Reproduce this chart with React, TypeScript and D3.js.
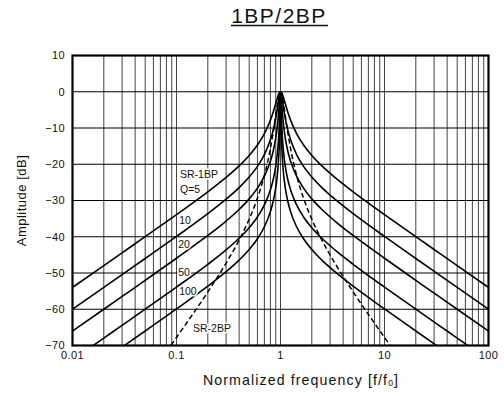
import React from "react";
import * as d3 from "d3";

// Frequencies (normalized f/f0)
const freq = [0.01, 0.02, 0.03, 0.05, 0.1, 0.2, 0.3, 0.4, 0.5, 0.6, 0.7, 0.8, 0.85, 0.9, 0.93, 0.95, 0.97, 0.98, 0.99, 1,
  1.0101, 1.0204, 1.0309, 1.0526, 1.0753, 1.1111, 1.1765, 1.25, 1.4286, 1.6667, 2, 2.5, 3.3333, 5, 10, 20, 33.333, 50, 100];

// SR-1BP amplitude [dB] for each Q
const q5 = [-53.98, -47.96, -44.43, -39.98, -33.89, -27.61, -23.64, -20.46, -17.58, -14.69, -11.54, -7.83, -5.64, -3.25, -1.84, -1.01, -0.39, -0.17, -0.04, 0,
  -0.04, -0.17, -0.39, -1.01, -1.84, -3.25, -5.64, -7.83, -11.54, -14.69, -17.58, -20.46, -23.64, -27.61, -33.89, -39.98, -44.43, -47.96, -53.98];
const q10 = [-60.0, -53.98, -50.45, -46.0, -39.91, -33.63, -29.65, -26.45, -23.54, -20.6, -17.33, -13.27, -10.67, -7.37, -4.93, -3.12, -1.37, -0.66, -0.17, 0,
  -0.17, -0.66, -1.37, -3.12, -4.93, -7.37, -10.67, -13.27, -17.33, -20.6, -23.54, -26.45, -29.65, -33.63, -39.91, -46.0, -50.45, -53.98, -60.0];
const q20 = [-66.02, -60.0, -56.47, -52.02, -45.93, -39.65, -35.66, -32.47, -29.55, -26.59, -23.29, -19.14, -16.4, -12.75, -9.75, -7.17, -3.95, -2.18, -0.65, 0,
  -0.65, -2.18, -3.95, -7.17, -9.75, -12.75, -16.4, -19.14, -23.29, -26.59, -29.55, -32.47, -35.66, -39.65, -45.93, -52.02, -56.47, -60.0, -66.02];
const q50 = [-73.98, -67.95, -64.43, -59.98, -53.89, -47.6, -43.62, -40.42, -37.5, -34.54, -31.23, -27.05, -24.28, -20.51, -17.31, -14.37, -10.12, -7.06, -3.03, 0,
  -3.03, -7.06, -10.12, -14.37, -17.31, -20.51, -24.28, -27.05, -31.23, -34.54, -37.5, -40.42, -43.62, -47.6, -53.89, -59.98, -64.43, -67.95, -73.98];
const q100 = [-80.0, -73.98, -70.45, -66.0, -59.91, -53.62, -49.64, -46.44, -43.52, -40.56, -37.25, -33.07, -30.28, -26.5, -23.27, -20.27, -15.81, -12.39, -7.02, 0,
  -7.02, -12.39, -15.81, -20.27, -23.27, -26.5, -30.28, -33.07, -37.25, -40.56, -43.52, -46.44, -49.64, -53.62, -59.91, -66.0, -70.45, -73.98, -80.0];

// SR-2BP (dashed)
const freq2 = [0.08, 0.1, 0.2, 0.3, 0.4, 0.5, 0.6, 0.7, 0.8, 0.85, 0.9, 0.93, 0.95, 0.97, 0.98, 0.99, 1,
  1.0101, 1.0204, 1.0309, 1.0526, 1.0753, 1.1111, 1.1765, 1.25, 1.4286, 1.6667, 2, 2.5, 3.3333, 5, 10, 12.5];
const sr2 = [-71.72, -67.78, -55.22, -47.27, -40.92, -35.16, -29.38, -23.08, -15.66, -11.28, -6.5, -3.68, -2.02, -0.77, -0.34, -0.08, 0,
  -0.08, -0.34, -0.77, -2.02, -3.68, -6.5, -11.28, -15.66, -23.08, -29.38, -35.16, -40.92, -47.27, -55.22, -67.78, -71.72];

const series1 = [q5, q10, q20, q50, q100];

const yTicks = [10, 0, -10, -20, -30, -40, -50, -60, -70];
const xTicks = [0.01, 0.1, 1, 10, 100];
const xTickLabels = ["0.01", "0.1", "1", "10", "100"];
const decades = [0.01, 0.1, 1, 10];
const multiples = [1, 2, 3, 4, 5, 6, 7, 8, 9];

// curve annotations in data coordinates [f, dB]
const labels = [
  { text: "SR-1BP", f: 0.108, db: -23.8 },
  { text: "Q=5", f: 0.108, db: -27.9 },
  { text: "10", f: 0.106, db: -36.6 },
  { text: "20", f: 0.104, db: -43.0 },
  { text: "50", f: 0.104, db: -50.8 },
  { text: "100", f: 0.106, db: -56.1 },
  { text: "SR-2BP", f: 0.144, db: -66.3 },
];

const W = 504, H = 396;
const FONT = "'Liberation Sans', Arial, Helvetica, sans-serif";

export default function App() {
  const x = d3.scaleLog().domain([0.01, 100]).range([72.5, 488.5]);
  const y = d3.scaleLinear().domain([-70, 10]).range([345.5, 55.5]);
  const line = d3.line<[number, number]>()
    .x((d) => x(d[0]))
    .y((d) => y(d[1]))
    .curve(d3.curveMonotoneX);

  const vgrid: number[] = [];
  decades.forEach((dd) => multiples.forEach((m) => vgrid.push(dd * m)));
  vgrid.push(100);

  return (
    <svg width={W} height={H} style={{ position: "absolute", left: 0, top: 0, background: "#fff" }} fontFamily={FONT}>
      <defs>
        <clipPath id="plot">
          <rect x={72.5} y={55.5} width={416} height={290} />
        </clipPath>
      </defs>
      <rect width={W} height={H} fill="#fff" />
      {/* Title */}
      <text x={279} y={22.7} textAnchor="middle" fontSize={21} letterSpacing={1.5} fill="#111">1BP/2BP</text>
      <line x1={231} x2={328} y1={25.5} y2={25.5} stroke="#111" strokeWidth={1.3} />

      {/* grid */}
      {vgrid.map((v, i) => (
        <line key={"v" + i} x1={x(v)} x2={x(v)} y1={y(10)} y2={y(-70)} stroke="#444" strokeWidth={1} />
      ))}
      {yTicks.map((t) => (
        <line key={"h" + t} x1={x(0.01)} x2={x(100)} y1={y(t)} y2={y(t)} stroke="#000" strokeWidth={1} />
      ))}

      {/* curves */}
      <g clipPath="url(#plot)" fill="none" stroke="#000">
        {series1.map((s, i) => (
          <path key={i} d={line(freq.map((f, j) => [f, s[j]] as [number, number])) || ""} strokeWidth={1.6} />
        ))}
        <path d={line(freq2.map((f, j) => [f, sr2[j]] as [number, number])) || ""} strokeWidth={1.5} strokeDasharray="5,3" />
      </g>

      {/* labels */}
      {labels.map((l, i) => (
        <text key={i} x={x(l.f)} y={y(l.db)} fontSize={10.5} fill="#111" stroke="#fff" strokeWidth={3} paintOrder="stroke" strokeLinejoin="round">{l.text}</text>
      ))}

      {/* frame */}
      <rect x={72.5} y={55.5} width={416} height={290} fill="none" stroke="#000" strokeWidth={2.2} />

      {/* y tick labels */}
      {yTicks.map((t) => (
        <text key={"yl" + t} x={65} y={y(t)} dy="0.35em" textAnchor="end" fontSize={11} letterSpacing={0.4} fill="#111">
          {t < 0 ? "\u2212" + Math.abs(t) : String(t)}
        </text>
      ))}
      {/* x tick labels */}
      {xTicks.map((t, i) => (
        <text key={"xl" + t} x={x(t)} y={359} textAnchor="middle" fontSize={11} letterSpacing={0.4} fill="#111">{xTickLabels[i]}</text>
      ))}

      {/* axis titles */}
      <text x={301} y={385} textAnchor="middle" fontSize={14.2} letterSpacing={1.1} fill="#111">
        Normalized frequency [f/f<tspan fontSize={8.5} dy={1}>0</tspan><tspan dy={-1}>]</tspan>
      </text>
      <text transform={`translate(26,${200.5}) rotate(-90)`} textAnchor="middle" fontSize={13} letterSpacing={0.5} fill="#111">Amplitude [dB]</text>
    </svg>
  );
}
